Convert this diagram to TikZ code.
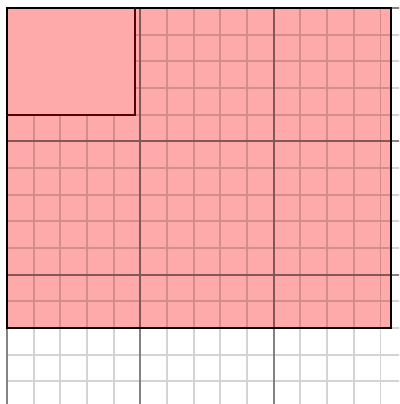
\documentclass[tikz,border=0pt]{standalone}
\usepackage{tikz}
\usetikzlibrary{positioning}

\definecolor{sheetpink}{RGB}{255,170,170}
\definecolor{patchedge}{RGB}{90,0,0}

\begin{document}
\begin{tikzpicture}[
    scale=0.5,
    minorgrid/.style = {step=1, draw=black, draw opacity=0.17, line width=0.9pt},
    majorgrid/.style = {step=5, draw=black, draw opacity=0.38, line width=1.1pt},
    sheet/.style = {fill=sheetpink, draw=black, line width=1.2pt},
    patch/.style = {fill=sheetpink, draw=patchedge, line width=1.2pt}
]

    % Frame
    \useasboundingbox (-0.2625,0.3) rectangle (14.7,-14.85);

    % === BIG SHEET ===
    \fill[sheetpink] (0,0) rectangle (14.4,-12);

    % === GRID ===
    \clip (-0.2625,0.3) rectangle (14.7,-14.85);
    \draw[minorgrid] (0,-15) grid (15,0);
    \draw[majorgrid] (0,-15) grid (15,0);

    \draw[sheet, fill=none] (0,0) rectangle (14.4,-12);

    % === SMALL PATCH ===
    \draw[patch] (0,0) rectangle (4.8,-4);
    \draw[black, line width=1.2pt] (4.8,0) -- (0,0) -- (0,-4);

\end{tikzpicture}
\end{document}
